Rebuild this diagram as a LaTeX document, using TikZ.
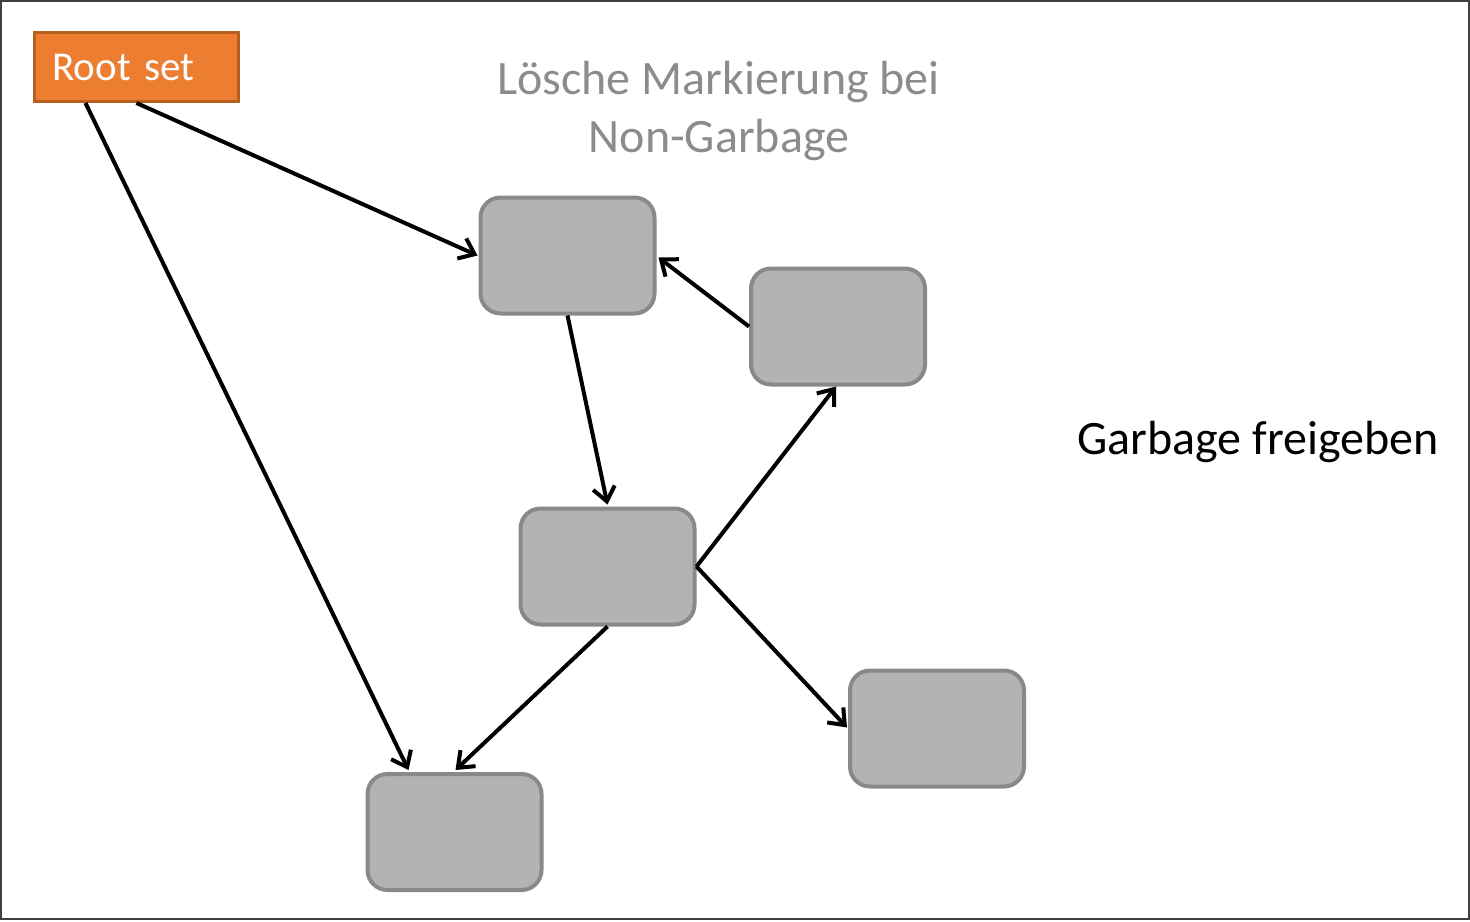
\documentclass[tikz,border=0pt]{standalone}
\usepackage{fontspec}
\setmainfont{Carlito}
\newfontfamily\rootfont[WordSpace=0.6]{Carlito}
\usetikzlibrary{arrows.meta,calc}
\definecolor{boxfill}{HTML}{B3B3B3}
\definecolor{boxline}{HTML}{898989}
\definecolor{rootfill}{HTML}{ED7D31}
\definecolor{rootline}{HTML}{B5601F}
\definecolor{titlegray}{HTML}{8C8C8C}
\definecolor{framecol}{HTML}{404040}
\tikzset{
  objbox/.style={draw=boxline, fill=boxfill, line width=2pt, rounded corners=10pt,
    minimum width=87pt, minimum height=58pt, inner sep=0pt},
  rootbox/.style={draw=rootline, fill=rootfill, line width=1.5pt,
    minimum width=102pt, minimum height=34.5pt, inner xsep=9pt, inner ysep=0pt,
    text width=84pt, align=left, text=white,
    font=\rootfont\fontsize{20.5}{25}\selectfont},
  conn/.style={line width=2pt, draw=black, -{Straight Barb[length=7pt,width=11pt,line width=2pt]}},
  label/.style={font=\fontsize{24}{29}\selectfont, inner sep=0pt, anchor=base}
}
\begin{document}
\begin{tikzpicture}[x=0.5pt,y=-0.5pt]
\useasboundingbox (0,0) rectangle (1470,921);
\draw[framecol, line width=1pt] (1,1) rectangle (1469,919);
\node[rootbox] (R) at (136.5,67) {Root set};
\node[objbox] (A) at (567.5,255.5) {};
\node[objbox] (B) at (838,326.5) {};
\node[objbox] (C) at (607.5,566.5) {};
\node[objbox] (D) at (937,728.5) {};
\node[objbox] (E) at (454.5,832) {};
\node[label, text=titlegray] (T1) at (718.5,94) {Lösche Markierung bei};
\node[label, text=titlegray] (T2) at (719,152) {Non-Garbage};
\node[label, text=black] (G) at (1258,454) {Garbage freigeben};
\draw[conn] ($(R.south west)+(52.5,0)$) -- ($(E.north west)+(43,-2)$);
\draw[conn] (R.south) -- ($(A.west)+(-1,0)$);
\draw[conn] (B.west) -- ($(A.east)+(2,2)$);
\draw[conn] (A.south) -- ($(C.north)+(0,-2)$);
\draw[conn] (C.east) -- ($(B.south)+(-2,0)$);
\draw[conn] (C.east) -- ($(D.west)+(-1,-1)$);
\draw[conn] (C.south) -- ($(E.north)+(1,-2)$);
\end{tikzpicture}
\end{document}
